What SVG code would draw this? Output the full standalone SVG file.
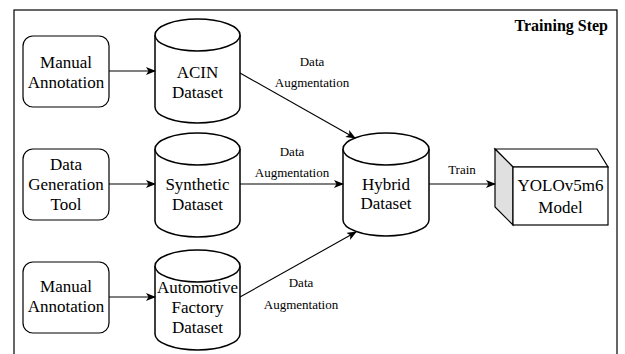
<svg xmlns="http://www.w3.org/2000/svg" width="625" height="354" viewBox="0 0 625 354">
<style>
.box{fill:#fff;stroke:#000;stroke-width:1.2}
.cyl{fill:#fff;stroke:#000;stroke-width:1.5}
.t{font-family:'Liberation Serif',serif;font-size:17px;fill:#000;text-anchor:middle}
.lbl{font-family:'Liberation Serif',serif;font-size:13px;fill:#000;text-anchor:middle}
.edge{fill:none;stroke:#000;stroke-width:1.1}
</style>
<defs>
<marker id="arr" viewBox="0 0 10 8" refX="9" refY="4" markerWidth="10" markerHeight="8" markerUnits="userSpaceOnUse" orient="auto">
<path d="M0,0 L10,4 L0,8 L2.5,4 z" fill="#000"/>
</marker>
</defs>
<rect x="14" y="10" width="603" height="360" fill="#fff" stroke="#000" stroke-width="1.2"/>
<text x="608" y="31" font-family="'Liberation Serif',serif" font-size="16" font-weight="bold" text-anchor="end">Training Step</text>

<g id="manual1">
<rect class="box" x="23" y="36" width="86" height="71" rx="10"/>
<text class="t" x="66" y="68">Manual</text>
<text class="t" x="66" y="88">Annotation</text>
</g>
<g id="datagen">
<rect class="box" x="23" y="149" width="86" height="71" rx="10"/>
<text class="t" x="66" y="170">Data</text>
<text class="t" x="66" y="190">Generation</text>
<text class="t" x="66" y="210">Tool</text>
</g>
<g id="manual2">
<rect class="box" x="23" y="262" width="86" height="71" rx="10"/>
<text class="t" x="66" y="292">Manual</text>
<text class="t" x="66" y="312">Annotation</text>
</g>

<g id="acin">
<path class="cyl" d="M155,35 A42.5,16 0 0 1 240,35 V107 A42.5,16 0 0 1 155,107 Z"/>
<path class="cyl" d="M155,35 A42.5,16 0 0 0 240,35" fill="none"/>
<text class="t" x="197.5" y="78">ACIN</text>
<text class="t" x="197.5" y="98">Dataset</text>
</g>
<g id="synthetic">
<path class="cyl" d="M155,149 A42.5,16 0 0 1 240,149 V221 A42.5,16 0 0 1 155,221 Z"/>
<path class="cyl" d="M155,149 A42.5,16 0 0 0 240,149" fill="none"/>
<text class="t" x="197.5" y="190">Synthetic</text>
<text class="t" x="197.5" y="210">Dataset</text>
</g>
<g id="automotive">
<path class="cyl" d="M155,266 A42.5,16 0 0 1 240,266 V334 A42.5,16 0 0 1 155,334 Z"/>
<path class="cyl" d="M155,266 A42.5,16 0 0 0 240,266" fill="none"/>
<text class="t" x="197.5" y="293">Automotive</text>
<text class="t" x="197.5" y="313">Factory</text>
<text class="t" x="197.5" y="333">Dataset</text>
</g>
<g id="hybrid">
<path class="cyl" d="M343,149 A43,16 0 0 1 429,149 V220 A43,16 0 0 1 343,220 Z"/>
<path class="cyl" d="M343,149 A43,16 0 0 0 429,149" fill="none"/>
<text class="t" x="386" y="190">Hybrid</text>
<text class="t" x="386" y="209">Dataset</text>
</g>
<g id="yolo">
<polygon points="495,149 597,149 608,167 513,167" fill="#fff" stroke="#000" stroke-width="1.2"/>
<polygon points="495,149 513,167 513,225 495,207" fill="#e0e0e0" stroke="#000" stroke-width="1.2"/>
<rect x="513" y="167" width="95" height="58" fill="#fff" stroke="#000" stroke-width="1.2"/>
<text class="t" x="560.5" y="191">YOLOv5m6</text>
<text class="t" x="560.5" y="213">Model</text>
</g>

<g id="connectors">
<line class="edge" x1="109" y1="71" x2="155" y2="71" marker-end="url(#arr)"/>
<line class="edge" x1="109" y1="184" x2="155" y2="184" marker-end="url(#arr)"/>
<line class="edge" x1="109" y1="297" x2="155" y2="297" marker-end="url(#arr)"/>
<line class="edge" x1="240" y1="73" x2="355" y2="138" marker-end="url(#arr)"/>
<line class="edge" x1="240" y1="184" x2="343" y2="184" marker-end="url(#arr)"/>
<line class="edge" x1="240" y1="297" x2="356" y2="232" marker-end="url(#arr)"/>
<line class="edge" x1="429" y1="184" x2="495" y2="184" marker-end="url(#arr)"/>
<text class="lbl" x="312" y="66">Data</text>
<text class="lbl" x="312" y="87">Augmentation</text>
<text class="lbl" x="292" y="156">Data</text>
<text class="lbl" x="292" y="177">Augmentation</text>
<text class="lbl" x="301" y="287">Data</text>
<text class="lbl" x="301" y="309">Augmentation</text>
<text class="lbl" x="462" y="174">Train</text>
</g>
</svg>
